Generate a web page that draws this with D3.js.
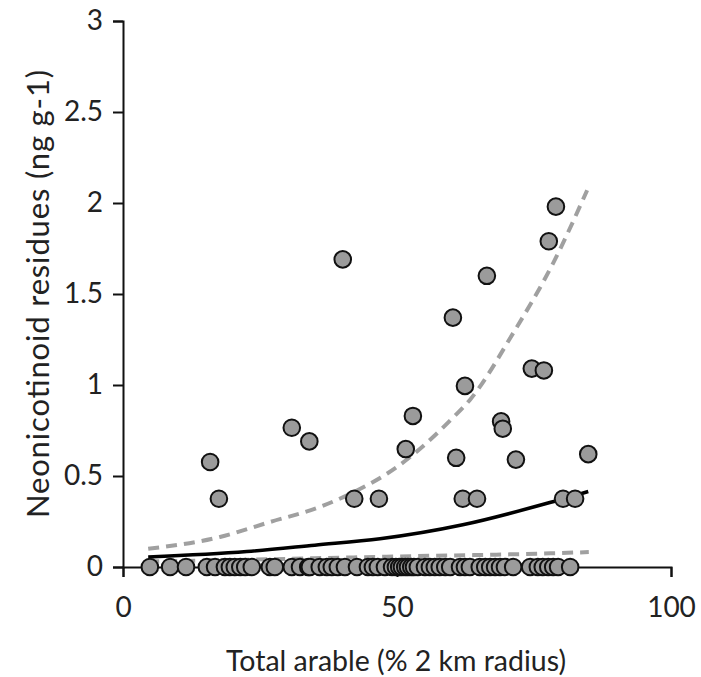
<!DOCTYPE html>
<html><head><meta charset="utf-8">
<script src="https://cdn.jsdelivr.net/npm/d3@7"></script>
<style>
html,body{margin:0;padding:0;background:#fff;}
svg{display:block;}
text{font-family:Lato, "Open Sans", sans-serif;fill:#222;}
</style></head>
<body>
<svg id="chart" width="701" height="677"></svg>
<script>
// Non-zero observations: [% arable, residue ng/g]
const positiveX = [15.9,17.5,30.8,34.0,40.1,42.2,46.7,51.6,52.9,60.2,60.8,62.0,62.4,64.6,66.4,69.0,69.3,71.7,74.6,76.8,77.7,79.0,80.3,82.5,84.9];
const positiveY = [0.577,0.375,0.765,0.69,1.69,0.375,0.375,0.648,0.83,1.37,0.60,0.375,0.995,0.375,1.60,0.80,0.76,0.59,1.09,1.08,1.79,1.98,0.375,0.375,0.62];
// Zero-residue observations (x values only, y = 0)
const zeroX = [4.9,8.6,11.5,15.3,16.8,18.6,19.5,20.4,21.4,22.3,23.5,26.8,27.7,30.8,32.3,33.8,34.1,35.9,37.2,38.1,39.2,40.5,42.7,44.7,45.6,46.5,47.8,49.1,49.8,50.4,50.9,51.5,52.0,52.6,53.1,53.8,55.1,56.0,56.9,57.8,58.8,59.7,61.5,62.4,63.3,65.1,66.1,67.0,67.9,68.8,69.7,71.2,74.3,75.7,76.6,77.6,78.5,79.4,81.6];
// Fitted curve and confidence bands
const fitX = [4.6,22.6,35,46.9,62,77.4,84.9];
const fitY = [0.055,0.085,0.12,0.155,0.232,0.35,0.415];
const upperX = [4.6,17.7,26.8,35.9,42,50,60.2,63.3,71.2,78.5,84.7];
const upperY = [0.10,0.165,0.247,0.33,0.41,0.55,0.82,0.918,1.285,1.67,2.07];
const lowerX = [4.6,20,35,50,65,78,85];
const lowerY = [0.03,0.038,0.048,0.058,0.066,0.075,0.082];
const xTicks = [0,50,100];
const yTicks = [0,0.5,1,1.5,2,2.5,3];
const xTitle = "Total arable (% 2 km radius)";
const yTitle = "Neonicotinoid residues (ng g-1)";

const svg = d3.select("#chart");
const x = d3.scaleLinear().domain([0,100]).range([123,671]);
const y = d3.scaleLinear().domain([0,3]).range([567,21]);

const line = d3.line().x(d=>x(d[0])).y(d=>y(d[1])).curve(d3.curveMonotoneX);
const zip = (a,b)=>a.map((v,i)=>[v,b[i]]);

// axes
const gx = svg.append("g").attr("transform",`translate(0,${y(0)})`)
  .call(d3.axisBottom(x).tickValues(xTicks).tickSize(10).tickPadding(20).tickFormat(d3.format("d")));
const gy = svg.append("g").attr("transform",`translate(${x(0)},0)`)
  .call(d3.axisLeft(y).tickValues(yTicks).tickSize(10).tickPadding(10).tickFormat(d=>String(d)));
[gx,gy].forEach(g=>{
  g.select(".domain").attr("stroke","#111").attr("stroke-width",2);
  g.selectAll(".tick line").attr("stroke","#111").attr("stroke-width",2);
  g.selectAll(".tick text").attr("font-size",28).attr("fill","#222").attr("font-family","Lato, sans-serif");
});
gx.selectAll(".tick text").attr("dy","0.71em");

// lines
svg.append("path").datum(zip(upperX,upperY)).attr("d",line)
  .attr("fill","none").attr("stroke","#a0a0a0").attr("stroke-width",4).attr("stroke-dasharray","11,7");
svg.append("path").datum(zip(lowerX,lowerY)).attr("d",line)
  .attr("fill","none").attr("stroke","#a0a0a0").attr("stroke-width",4).attr("stroke-dasharray","11,7");
svg.append("path").datum(zip(fitX,fitY)).attr("d",line)
  .attr("fill","none").attr("stroke","#000").attr("stroke-width",3.5);

// points
const pts = zeroX.map(v=>[v,0]).concat(zip(positiveX,positiveY));
svg.append("g").selectAll("circle").data(pts).join("circle")
  .attr("cx",d=>x(d[0])).attr("cy",d=>y(d[1])).attr("r",8.3)
  .attr("fill","#9b9b9b").attr("stroke","#111").attr("stroke-width",2);

// titles
svg.append("text").attr("x",396).attr("y",671).attr("text-anchor","middle")
  .attr("font-size",28.5).attr("textLength",340).attr("lengthAdjust","spacing").text(xTitle);
svg.append("text").attr("transform","translate(49,294) rotate(-90)").attr("text-anchor","middle")
  .attr("font-size",31).attr("textLength",448).attr("lengthAdjust","spacing").text(yTitle);
</script>
</body></html>
